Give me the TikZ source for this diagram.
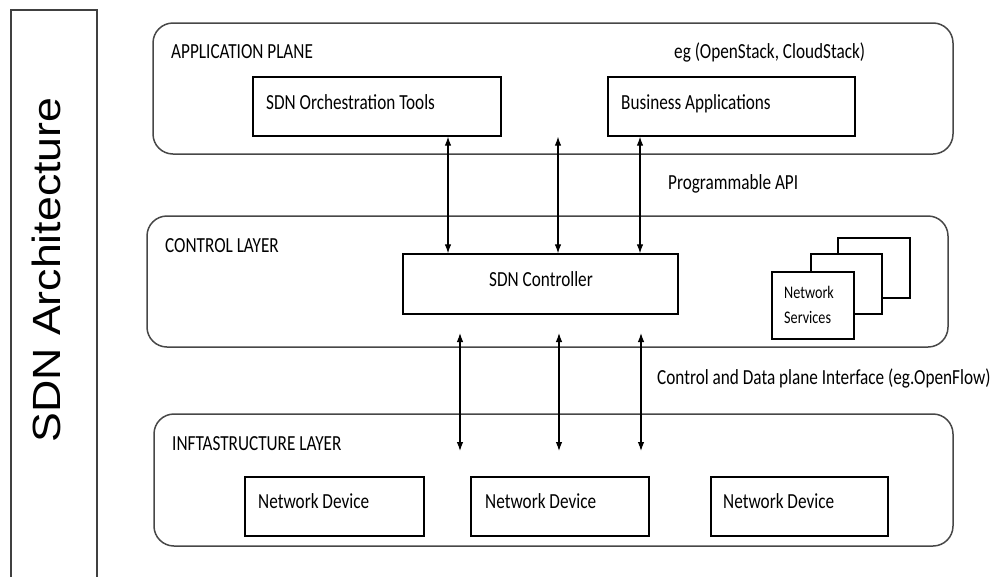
\documentclass[tikz,border=0pt]{standalone}
\usepackage{fontspec}
\setmainfont{Carlito}
\newfontfamily\arialfont{Liberation Sans}
\usetikzlibrary{arrows.meta}
% condensed label text
\newcommand{\nrw}[1]{\scalebox{0.8}[1]{#1}}
\tikzset{
  layer/.style={draw=black!72, line width=1.5pt, rounded corners=20pt, fill=white},
  inbox/.style={draw=black, line width=1.3pt, fill=white},
  txt/.style={inner sep=0pt, anchor=base west, font=\fontsize{21.5}{24}\selectfont},
  smalltxt/.style={inner sep=0pt, anchor=base west, font=\fontsize{17.7}{20}\selectfont},
  dbl/.style={{Latex[length=9pt,width=6.5pt]}-{Latex[length=9pt,width=6.5pt]}, line width=1.1pt},
}
\begin{document}
\begin{tikzpicture}[x=1pt, y=-1pt]
\useasboundingbox (0,0) rectangle (992,576);

% side caption frame (open at the bottom)
\draw[draw=black!75, line width=1.8pt] (11,590) -- (11,10) -- (97,10) -- (97,590);
\node[inner sep=0pt, rotate=90, font=\arialfont\fontsize{44.7}{48}\selectfont] (arch) at (46,270)
  {\scalebox{1}[0.88]{SDN Architecture}};

% application plane
\node[layer, minimum width=800pt, minimum height=131pt] (app) at (553,88.5) {};
\node[txt] (apptitle) at (171,58) {\nrw{APPLICATION PLANE}};
\node[txt] (appeg) at (674,58) {\nrw{eg (OpenStack, CloudStack)}};
\node[inbox, minimum width=248pt, minimum height=59pt] (orch) at (377,106.5) {};
\node[txt] (orchtxt) at (266,109) {\nrw{SDN Orchestration Tools}};
\node[inbox, minimum width=247pt, minimum height=59pt] (bus) at (731.5,106.5) {};
\node[txt] (bustxt) at (621,109) {\nrw{Business Applications}};

\node[txt] (api) at (668,189) {\nrw{Programmable API}};

% control layer
\node[layer, minimum width=801pt, minimum height=131pt] (ctl) at (547.5,281.5) {};
\node[txt] (ctltitle) at (165,252) {\nrw{CONTROL LAYER}};
\node[inbox, minimum width=275pt, minimum height=60pt] (ctrl) at (540.5,284) {};
\node[txt, anchor=base] (ctrltxt) at (541,286) {\nrw{SDN Controller}};

% stacked network services
\node[inbox, minimum width=72pt, minimum height=60pt] (ns3) at (874,268) {};
\node[inbox, minimum width=71pt, minimum height=60pt] (ns2) at (846.5,284) {};
\node[inbox, minimum width=82pt, minimum height=67pt] (ns1) at (813,305.5) {};
\node[smalltxt] (nsa) at (784,298) {\nrw{Network}};
\node[smalltxt] (nsb) at (784,323) {\nrw{Services}};

\node[txt] (sbi) at (657,384) {\nrw{Control and Data plane Interface (eg.OpenFlow)}};

% infrastructure layer
\node[layer, minimum width=799pt, minimum height=132pt] (infra) at (553.5,480) {};
\node[txt] (infratitle) at (172,450) {\nrw{INFTASTRUCTURE LAYER}};
\node[inbox, minimum width=179pt, minimum height=59pt] (nd1) at (334.5,506.5) {};
\node[inbox, minimum width=178pt, minimum height=59pt] (nd2) at (560,506.5) {};
\node[inbox, minimum width=177pt, minimum height=59pt] (nd3) at (799.5,506.5) {};
\node[txt] (nd1txt) at (258,508) {\nrw{Network Device}};
\node[txt] (nd2txt) at (485,508) {\nrw{Network Device}};
\node[txt] (nd3txt) at (723,508) {\nrw{Network Device}};

% northbound connectors
\coordinate (u1) at (448,0);
\coordinate (u2) at (558,0);
\coordinate (u3) at (640,0);
\draw[dbl] (orch.south -| u1) -- (ctrl.north -| u1);
\draw[dbl] (orch.south -| u2) -- (ctrl.north -| u2);
\draw[dbl] (bus.south -| u3) -- (ctrl.north -| u3);

% southbound connectors
\coordinate (d1t) at (460,333);
\coordinate (d1b) at (460,451);
\coordinate (d2t) at (559,333);
\coordinate (d2b) at (559,451);
\coordinate (d3t) at (641,333);
\coordinate (d3b) at (641,451);
\draw[dbl] (d1t) -- (d1b);
\draw[dbl] (d2t) -- (d2b);
\draw[dbl] (d3t) -- (d3b);
\end{tikzpicture}
\end{document}
